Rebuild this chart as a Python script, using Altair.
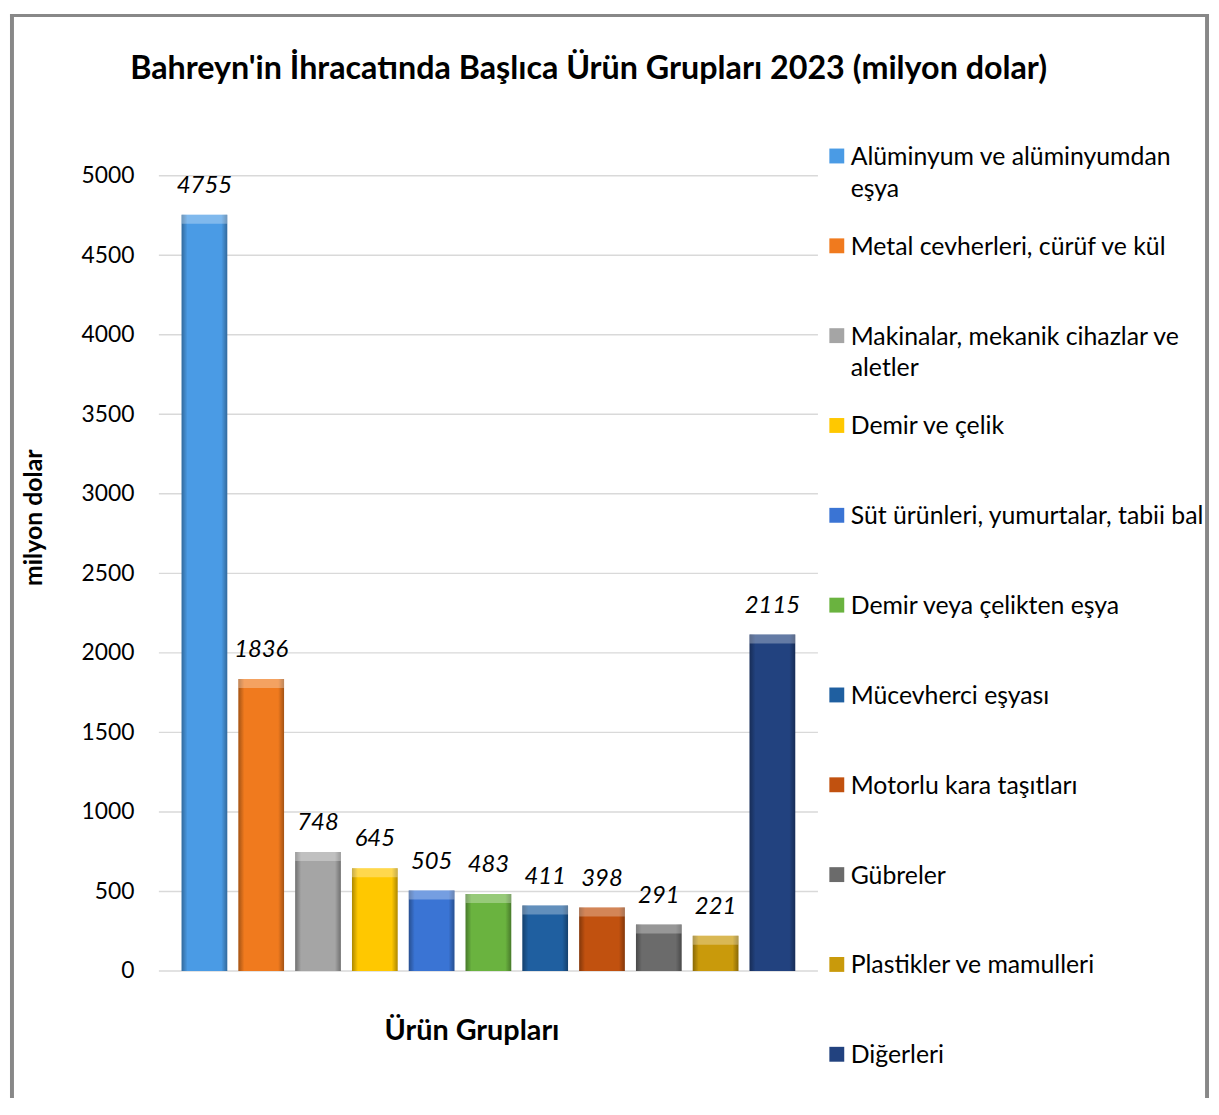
import altair as alt
import pandas as pd

categories = [
    "Alüminyum ve alüminyumdan eşya",
    "Metal cevherleri, cürüf ve kül",
    "Makinalar, mekanik cihazlar ve aletler",
    "Demir ve çelik",
    "Süt ürünleri, yumurtalar, tabii bal",
    "Demir veya çelikten eşya",
    "Mücevherci eşyası",
    "Motorlu kara taşıtları",
    "Gübreler",
    "Plastikler ve mamulleri",
    "Diğerleri",
]
values = [4755, 1836, 748, 645, 505, 483, 411, 398, 291, 221, 2115]
legend_labels = [
    "Alüminyum ve alüminyumdan\neşya",
    "Metal cevherleri, cürüf ve kül",
    "Makinalar, mekanik cihazlar ve\naletler",
    "Demir ve çelik",
    "Süt ürünleri, yumurtalar, tabii bal",
    "Demir veya çelikten eşya",
    "Mücevherci eşyası",
    "Motorlu kara taşıtları",
    "Gübreler",
    "Plastikler ve mamulleri",
    "Diğerleri",
]
colors = [
    "#4a9be5", "#f07a1e", "#a5a5a5", "#ffc800", "#3a74d4", "#6ab33f",
    "#1f5fa0", "#c1510f", "#6b6b6b", "#c99a0b", "#22427f",
]
y_ticks = [0, 500, 1000, 1500, 2000, 2500, 3000, 3500, 4000, 4500, 5000]
chart_title = "Bahreyn'in İhracatında Başlıca Ürün Grupları 2023 (milyon dolar)"
x_title = "Ürün Grupları"
y_title = "milyon dolar"

FONT = "Lato"
W, H = 1208, 1092

df = pd.DataFrame({"cat": categories, "value": values, "legend": legend_labels})
grid_df = pd.DataFrame({"tick": y_ticks})
one = pd.DataFrame({"t": [chart_title]})

yscale = alt.Scale(domain=[0, 5000], range=[964, 163], nice=False)
xscale = alt.Scale(domain=categories, range=[150, 814], paddingInner=0.196, paddingOuter=0.40)
cscale = alt.Scale(domain=categories, range=colors)

yaxis = alt.Axis(
    values=y_ticks, format="d", ticks=False, tickSize=0, domain=False, grid=False,
    offset=-133, labelPadding=8, labelFont=FONT, labelFontSize=23, labelColor="#000000",
    title=y_title, titleFont=FONT, titleFontSize=25, titleFontWeight="bold", titleColor="#000000",
    titleAngle=270, titleX=-101, titleY=507, titleAlign="center", titleBaseline="alphabetic",
)
xaxis = alt.Axis(
    labels=False, ticks=False, domain=False, grid=False, offset=-(H - 964),
    title=x_title, titleFont=FONT, titleFontSize=29, titleFontWeight="bold", titleColor="#000000",
    titleX=465, titleY=69, titleAlign="center", titleBaseline="alphabetic",
)

base = alt.Chart(df)
X = alt.X("cat:N", sort=categories, scale=xscale, axis=xaxis)
Y = alt.Y("value:Q", scale=yscale, axis=yaxis)

grid = alt.Chart(grid_df).mark_rule(color="#d9d9d9", strokeWidth=1.5).encode(
    y=alt.Y("tick:Q", scale=yscale, axis=yaxis), x=alt.value(150), x2=alt.value(814)
)

bars = base.mark_bar().encode(
    x=X, y=Y, color=alt.Color("cat:N", scale=cscale, legend=None)
)
shade = base.mark_bar(
    fill=alt.LinearGradient(
        gradient="linear", x1=0, x2=1, y1=0, y2=0,
        stops=[
            alt.GradientStop(offset=0, color="rgba(0,0,0,0.32)"),
            alt.GradientStop(offset=0.13, color="rgba(0,0,0,0.0)"),
            alt.GradientStop(offset=0.87, color="rgba(0,0,0,0.0)"),
            alt.GradientStop(offset=1, color="rgba(0,0,0,0.32)"),
        ],
    )
).encode(x=X, y=Y)
cap = base.mark_bar(color="#ffffff", opacity=0.3, y2Offset=9).encode(
    x=X, y=Y, y2="value:Q"
)
labels = base.mark_text(
    font=FONT, fontSize=24, fontStyle="italic", color="#000000", baseline="alphabetic", dy=-22
).encode(x=X, y=Y, text="value:Q")

title = alt.Chart(one).mark_text(
    font=FONT, fontSize=32.5, fontWeight="bold", color="#000000", align="center", baseline="alphabetic"
).encode(x=alt.value(583), y=alt.value(65), text="t:N")

frame_df = pd.DataFrame({"a": [0]})
frame_l = alt.Chart(frame_df).mark_rule(color="#888888", strokeWidth=4).encode(
    x=alt.value(2), y=alt.value(0), y2=alt.value(H)
)
frame_r = alt.Chart(frame_df).mark_rule(color="#888888", strokeWidth=4).encode(
    x=alt.value(W - 2), y=alt.value(0), y2=alt.value(H)
)
frame_t = alt.Chart(frame_df).mark_rule(color="#888888", strokeWidth=3).encode(
    x=alt.value(0), x2=alt.value(W), y=alt.value(1.5)
)

main = alt.layer(grid, bars, shade, cap, labels, title, frame_l, frame_r, frame_t)

LY = alt.Y(
    "cat:N", sort=categories,
    scale=alt.Scale(type="point", domain=categories, range=[143, 1048], padding=0),
    axis=None,
)
leg_sym = base.mark_point(shape="square", filled=True, size=225, opacity=1).encode(
    y=LY, x=alt.value(833), color=alt.Color("cat:N", scale=cscale, legend=None)
)
leg_txt = base.mark_text(
    font=FONT, fontSize=25, color="#000000", align="left", baseline="alphabetic",
    dy=9, lineBreak="\n", lineHeight=32
).encode(y=LY, x=alt.value(847), text="legend:N")
legend = alt.layer(leg_sym, leg_txt)

chart = alt.layer(main, legend).resolve_scale(y="independent").properties(
    width=W, height=H, padding=0, background="#ffffff"
).configure_view(stroke=None)

chart.save("out.html", embed_options={"renderer": "svg", "actions": False})
